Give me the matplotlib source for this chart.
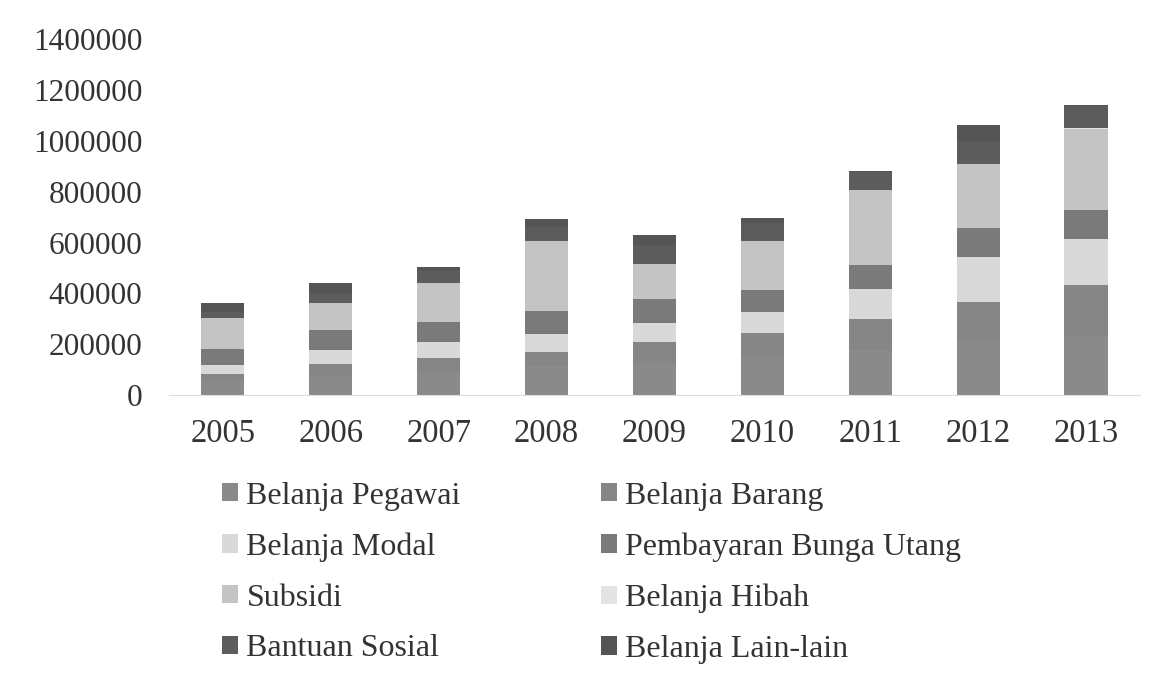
import matplotlib
matplotlib.use("Agg")
import matplotlib.pyplot as plt
import numpy as np

# ------------------------------------------------------------
# Data (miliar rupiah)
# ------------------------------------------------------------
years = ["2005", "2006", "2007", "2008", "2009", "2010", "2011", "2012", "2013"]

belanja_pegawai = [54300, 73300, 90400, 112800, 127700, 148100, 175700, 212000, 233000]
belanja_barang  = [29200, 47200, 54500, 56000, 80700, 97600, 124600, 153000, 200000]
belanja_modal   = [32900, 55000, 64300, 72800, 75900, 80300, 117900, 180000, 181000]
bunga_utang     = [65200, 79100, 79800, 88400, 93800, 88400, 93300, 114000, 114000]
subsidi         = [120800, 107400, 150200, 275300, 138100, 192700, 295400, 250000, 321000]
belanja_hibah   = [0, 0, 0, 0, 0, 100, 300, 100, 2200]
bantuan_sosial  = [24900, 40700, 49800, 57700, 73800, 68600, 71100, 85000, 85000]
belanja_lain    = [34100, 37400, 15600, 30300, 38900, 21700, 5500, 70000, 7000]

labels = ["Belanja Pegawai", "Belanja Barang", "Belanja Modal",
          "Pembayaran Bunga Utang", "Subsidi", "Belanja Hibah",
          "Bantuan Sosial", "Belanja Lain-lain"]
series = [belanja_pegawai, belanja_barang, belanja_modal, bunga_utang,
          subsidi, belanja_hibah, bantuan_sosial, belanja_lain]
colors = ["#8a8a8a", "#868686", "#d9d9d9", "#7a7a7a",
          "#c4c4c4", "#e4e4e4", "#5c5c5c", "#555555"]

y_ticks = [0, 200000, 400000, 600000, 800000, 1000000, 1200000, 1400000]

# ------------------------------------------------------------
# Figure
# ------------------------------------------------------------
plt.rcParams['font.family'] = ['Liberation Serif', 'DejaVu Serif']
text_color = "#333333"

fig = plt.figure(figsize=(11.67, 6.8), dpi=100)
ax = fig.add_axes([0.1448, 0.4191, 0.832, 0.523])

x = np.arange(len(years))
bottom = np.zeros(len(years))
handles = []
for vals, lab, col in zip(series, labels, colors):
    h = ax.bar(x, vals, width=0.4, bottom=bottom, color=col, label=lab,
               edgecolor='none')
    handles.append(h)
    bottom += np.array(vals)

ax.set_xlim(-0.5, len(years) - 0.5)
ax.set_ylim(0, 1400000)
ax.set_xticks(x)
ax.set_xticklabels(years)
ax.set_yticks(y_ticks)
ax.set_yticklabels([str(v) for v in y_ticks])

for side in ['top', 'right', 'left']:
    ax.spines[side].set_visible(False)
ax.spines['bottom'].set_color('#dddddd')
ax.spines['bottom'].set_linewidth(0.8)

ax.tick_params(axis='y', length=0, pad=19, labelsize=22.5, labelcolor=text_color)
ax.tick_params(axis='x', length=0, pad=17, labelsize=23.5, labelcolor=text_color)

# legend: two columns, filled row by row like the original
order = [0, 2, 4, 6, 1, 3, 5, 7]
fig.legend([handles[i] for i in order], [labels[i] for i in order],
           ncol=2, loc='upper left', bbox_to_anchor=(0.166, 0.334),
           frameon=False, fontsize=23, labelcolor=text_color,
           handlelength=0.5, handleheight=0.5, handletextpad=0.25,
           labelspacing=0.68, columnspacing=4.4)

plt.savefig('out.png', dpi=100)
